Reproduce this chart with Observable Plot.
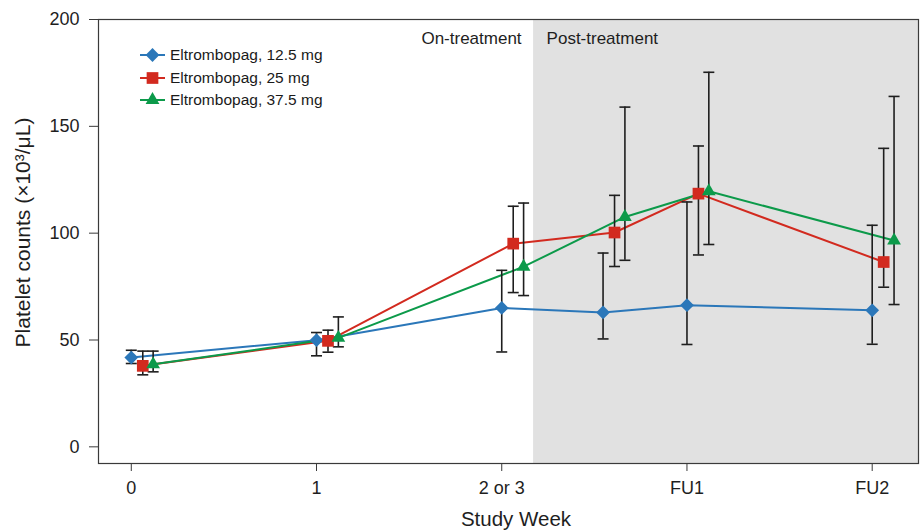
<!DOCTYPE html>
<html>
<head>
<meta charset="utf-8">
<script src="https://cdn.jsdelivr.net/npm/d3@7"></script>
<script src="https://cdn.jsdelivr.net/npm/@observablehq/plot@0.6"></script>
<style>
  html, body { margin: 0; padding: 0; background: #fff; }
  #wrap { position: relative; width: 920px; height: 530px; font-family: "Liberation Sans", Arial, sans-serif; }
  #legend { position: absolute; left: 140px; top: 44px; font-size: 15.5px; color: #1a1a1a; }
  #legend .row { display: flex; align-items: center; height: 22.5px; }
  #legend svg { display: block; margin-right: 4px; }
</style>
</head>
<body>
<div id="wrap"><div id="legend"></div></div>
<script>
// ---- data ----
const tickPos = [0, 1, 2, 3, 4];
const tickLabels = ["0", "1", "2 or 3", "FU1", "FU2"];
const timePos = [0, 1, 2, 2.547, 3, 4];          // study-week positions (one unlabeled visit between 2 or 3 and FU1)
const seriesNames = ["Eltrombopag, 12.5 mg", "Eltrombopag, 25 mg", "Eltrombopag, 37.5 mg"];
const seriesColors = ["#2b77b9", "#d22a1f", "#0c9a4a"];
const seriesSymbols = ["diamond2", "square", "triangle"];
const seriesDodge = [0, 0.062, 0.118];

const mean12 = [41.8, 49.9, 65.0, 62.9, 66.3, 63.9];
const lo12   = [39.0, 42.6, 44.4, 50.5, 47.9, 48.0];
const hi12   = [45.2, 53.5, 82.6, 90.7, 114.6, 103.7];

const mean25 = [37.9, 49.6, 95.1, 100.3, 118.5, 86.5];
const lo25   = [33.7, 44.3, 72.2, 84.4, 89.8, 74.7];
const hi25   = [44.8, 54.6, 112.6, 117.7, 140.8, 139.7];

const mean37 = [38.6, 51.0, 84.3, 107.6, 119.6, 96.6];
const lo37   = [35.1, 46.8, 70.8, 87.3, 94.7, 66.6];
const hi37   = [44.8, 60.8, 114.1, 159.0, 175.3, 164.0];

const postTreatmentStart = 2.172;
const xDomain = [-0.177, 4.25];
const yDomain = [-7.8, 200];
const yTicks = [0, 50, 100, 150, 200];
const phaseLabels = ["On-treatment", "Post-treatment"];
const xTitle = "Study Week";
const yTitle = "Platelet counts (\u00d710\u00b3/\u03bcL)";

// ---- build table ----
const means = [mean12, mean25, mean37], los = [lo12, lo25, lo37], his = [hi12, hi25, hi37];
const rows = [];
seriesNames.forEach((s, si) => {
  timePos.forEach((t, ti) => {
    rows.push({series: s, si, x: t + seriesDodge[si], v: means[si][ti], lo: los[si][ti], hi: his[si][ti]});
  });
});

const capSymbol = {
  draw(ctx, size) {
    const h = Math.sqrt(size / Math.PI);
    ctx.moveTo(-h, 0); ctx.lineTo(h, 0);
  }
};

const ink = "#1e1e1e";
const marks = [
  Plot.rect([{x1: postTreatmentStart, x2: xDomain[1], y1: yDomain[0], y2: yDomain[1]}],
    {x1: "x1", x2: "x2", y1: "y1", y2: "y2", fill: "#e1e1e1"}),
  Plot.text([phaseLabels[0]], {x: () => postTreatmentStart, frameAnchor: "top", text: d => d,
    textAnchor: "end", lineAnchor: "middle", dx: -12, dy: 19, fontSize: 17, fill: ink}),
  Plot.text([phaseLabels[1]], {x: () => postTreatmentStart, frameAnchor: "top", text: d => d,
    textAnchor: "start", lineAnchor: "middle", dx: 13, dy: 19, fontSize: 17, fill: ink}),
  Plot.frame({stroke: "#3a3a3a", strokeWidth: 1.2}),
  Plot.axisY({ticks: yTicks, tickSize: 9, tickPadding: 10, fontSize: 18, label: null, stroke: "#3a3a3a", fill: ink}),
  Plot.axisX({ticks: tickPos, tickFormat: d => tickLabels[tickPos.indexOf(d)], tickSize: 8, tickPadding: 10,
    fontSize: 18, label: null, stroke: "#3a3a3a", fill: ink}),
  Plot.text([xTitle], {frameAnchor: "bottom", text: d => d, lineAnchor: "bottom", dy: 62.5, dx: 7.5, fontSize: 20.5, fill: ink}),
  Plot.text([yTitle], {frameAnchor: "left", text: d => d, rotate: -90, textAnchor: "middle", lineAnchor: "middle",
    dx: -75, dy: -9, fontSize: 21, fill: ink}),
];
seriesNames.forEach((s, si) => {
  marks.push(Plot.line(rows.filter(d => d.si === si), {x: "x", y: "v", stroke: seriesColors[si], strokeWidth: 2}));
});
marks.push(Plot.ruleX(rows, {x: "x", y1: "lo", y2: "hi", stroke: ink, strokeWidth: 1.6}));
marks.push(Plot.dot(rows, {x: "x", y: "hi", symbol: capSymbol, r: 5.5, fill: "none", stroke: ink, strokeWidth: 1.6}));
marks.push(Plot.dot(rows, {x: "x", y: "lo", symbol: capSymbol, r: 5.5, fill: "none", stroke: ink, strokeWidth: 1.6}));
const sizes = [6.2, 6.6, 5.1];
seriesNames.forEach((s, si) => {
  marks.push(Plot.dot(rows.filter(d => d.si === si), {x: "x", y: "v", symbol: seriesSymbols[si], r: sizes[si],
    fill: seriesColors[si], stroke: "none"}));
});

const chart = Plot.plot({
  width: 920, height: 530,
  marginLeft: 98, marginRight: 2, marginTop: 19, marginBottom: 67,
  x: {domain: xDomain},
  y: {domain: yDomain},
  style: {fontFamily: "'Liberation Sans', Arial, sans-serif", background: "#fff", color: ink},
  marks
});
document.getElementById("wrap").prepend(chart);

// ---- legend ----
const legend = document.getElementById("legend");
seriesNames.forEach((s, si) => {
  const row = document.createElement("div");
  row.className = "row";
  const sym = d3.symbol(d3[{diamond2: "symbolDiamond2", square: "symbolSquare", triangle: "symbolTriangle"}[seriesSymbols[si]]],
    Math.PI * sizes[si] * sizes[si])();
  row.innerHTML = `<svg width="26" height="16"><line x1="0" x2="25" y1="8" y2="8" stroke="${seriesColors[si]}" stroke-width="2"/>` +
    `<path d="${sym}" transform="translate(12.5,8)" fill="${seriesColors[si]}"/></svg><span>${s}</span>`;
  legend.appendChild(row);
});
</script>
</body>
</html>
